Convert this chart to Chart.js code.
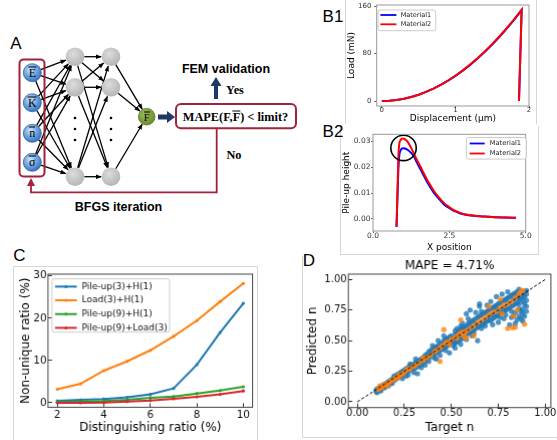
<!DOCTYPE html>
<html>
<head>
<meta charset="utf-8">
<script src="https://cdn.jsdelivr.net/npm/chart.js@4.4.1/dist/chart.umd.min.js"></script>
<style>
  html, body { margin: 0; padding: 0; background: #fff; }
  body { position: relative; width: 557px; height: 440px; overflow: hidden; font-family: "DejaVu Sans", sans-serif; }
  .plot { position: absolute; }
  .lbl { position: absolute; transform: translate(-50%, -50%); line-height: 1; white-space: nowrap; color: #000; }
  .tag { font: 17px "Liberation Sans", Arial, sans-serif; }
  .bsans { font: bold 12.5px "Liberation Sans", Arial, sans-serif; }
  .bserif { font: bold 12.3px "Liberation Serif", "Times New Roman", serif; }
  .node { font: 12px "Liberation Serif", "Times New Roman", serif; }
  .ov { display: inline-block; border-top: 1px solid #000; line-height: 0.78; padding-top: 1px; }
  .pframe { position: absolute; border: 0 solid #d6d6d6; }
</style>
</head>
<body>

<!-- light frames of the pasted sub-figures -->
<div class="pframe" style="left:345px;top:-2px;width:190px;height:126px;border-left-width:1px;border-right-width:1px;"></div>
<div class="pframe" style="left:340px;top:126px;width:197px;height:128px;border-left-width:1px;border-right-width:1px;border-bottom-width:1px;"></div>
<div class="pframe" style="left:13px;top:266px;width:243px;height:180px;border-left-width:1px;border-right-width:1px;border-top-width:1px;"></div>
<div class="pframe" style="left:302px;top:256px;width:260px;height:181px;border-left-width:1px;border-bottom-width:1px;"></div>

<!-- panel A: network diagram -->
<svg id="diagram" width="300" height="215" style="position:absolute;left:0;top:0">
  <defs>
    <radialGradient id="gBlue" cx="0.4" cy="0.35" r="0.7">
      <stop offset="0" stop-color="#d6e8fa"/>
      <stop offset="0.5" stop-color="#6fa6e2"/>
      <stop offset="1" stop-color="#2f6cb8"/>
    </radialGradient>
    <radialGradient id="gGray" cx="0.4" cy="0.35" r="0.7">
      <stop offset="0" stop-color="#dcdcdc"/>
      <stop offset="1" stop-color="#b3b3b3"/>
    </radialGradient>
    <radialGradient id="gGreen" cx="0.4" cy="0.35" r="0.7">
      <stop offset="0" stop-color="#9cbc5c"/>
      <stop offset="1" stop-color="#67882c"/>
    </radialGradient>
    <marker id="ah" viewBox="0 0 10 10" refX="9" refY="5" markerWidth="4.5" markerHeight="4.5" orient="auto">
      <path d="M0,1 L10,5 L0,9 z" fill="#000"/>
    </marker>
  </defs>
  <g id="links" stroke="#000" stroke-width="1.3" fill="none"></g>
  <rect x="19.5" y="59.5" width="25" height="117" rx="4" fill="none" stroke="#a0233c" stroke-width="2"/>
  <g id="nodes"></g>
  <polygon points="158,114.5 167,114.5 167,111 175,117 167,123 167,119.5 158,119.5" fill="#1f3864"/>
  <polygon points="214,99 218,99 218,86 221.5,86 216,77 210.5,86 214,86" fill="#1f3864"/>
  <rect x="176" y="104" width="120" height="24.3" rx="5" fill="#fff" stroke="#a0233c" stroke-width="2"/>
  <polyline points="216.7,128.3 216.7,192.3 31,192.3 31,185" fill="none" stroke="#a0233c" stroke-width="1.8"/>
  <polygon points="27,186 35,186 31,178" fill="#a0233c"/>
</svg>

<div class="lbl tag" style="left:16px;top:44px">A</div>
<div class="lbl bsans" style="left:226px;top:68.5px">FEM validation</div>
<div class="lbl bserif" style="left:235px;top:90px">Yes</div>
<div class="lbl bserif" style="left:234px;top:155px">No</div>
<div class="lbl bsans" style="left:118.5px;top:206.7px">BFGS iteration</div>
<div class="lbl bserif" style="left:235.5px;top:116.5px">MAPE(F,<span class="ov">F</span>) &lt; limit?</div>
<div class="lbl node" style="left:32.3px;top:73px"><span class="ov">E</span></div>
<div class="lbl node" style="left:32.3px;top:103px"><span class="ov">K</span></div>
<div class="lbl node" style="left:32.3px;top:133.3px"><span class="ov">n</span></div>
<div class="lbl node" style="left:32.3px;top:162.3px"><span class="ov">σ</span></div>
<div class="lbl node" style="left:146.7px;top:117px;font-size:10.5px"><span class="ov">F</span></div>

<div class="lbl tag" style="left:333px;top:16.5px">B1</div>
<div class="lbl tag" style="left:333px;top:132px">B2</div>
<div class="lbl tag" style="left:19.5px;top:256px">C</div>
<div class="lbl tag" style="left:309px;top:261px">D</div>

<div class="plot" id="b1"><canvas></canvas></div>
<div class="plot" id="b2"><canvas></canvas></div>
<div class="plot" id="c"><canvas></canvas></div>
<div class="plot" id="d"><canvas></canvas></div>

<script>
// ---- B1: load vs displacement ----
const B1_DISP = [0, 0.1, 0.2, 0.3, 0.4, 0.5, 0.6, 0.7, 0.8, 0.9, 1.0, 1.1, 1.2, 1.3, 1.4, 1.5, 1.6, 1.7, 1.8, 1.9, 1.864];
const B1_LOAD_M1 = [0, 0.4, 1.7, 3.8, 6.8, 10.6, 15.3, 20.8, 27.1, 34.3, 42.3, 51.2, 60.9, 71.5, 82.9, 95.2, 108.3, 122.3, 137.2, 153.2, 0];
const B1_LOAD_M2 = [0, 0.43, 1.7, 3.83, 6.82, 10.65, 15.34, 20.87, 27.26, 34.51, 42.6, 51.55, 61.34, 71.99, 83.5, 95.85, 109.06, 123.11, 138.02, 153.79, 0];
const B1_X_TICKS = [0, 1, 2];
const B1_Y_TICKS = [0, 80, 160];

// ---- B2: pile-up profile ----
const B2_X = [0.77, 0.80, 0.83, 0.86, 0.90, 0.97, 1.05, 1.13, 1.24, 1.345, 1.45, 1.56, 1.665, 1.77, 1.88, 1.99, 2.15, 2.31, 2.47, 2.63, 2.80, 2.96, 3.20, 3.50, 3.80, 4.03, 4.35, 4.68];
const B2_M1 = [-0.0031, 0.008, 0.019, 0.0245, 0.0265, 0.0274, 0.0273, 0.0268, 0.0257, 0.0241, 0.0216, 0.0191, 0.0167, 0.0143, 0.0122, 0.0102, 0.0079, 0.0058, 0.0044, 0.0032, 0.0024, 0.0018, 0.0013, 0.0010, 0.0008, 0.0006, 0.0005, 0.0004];
const B2_M2 = [-0.0031, 0.010, 0.024, 0.029, 0.0305, 0.0312, 0.0308, 0.0300, 0.0278, 0.0251, 0.0226, 0.0201, 0.0176, 0.0152, 0.0130, 0.0109, 0.0084, 0.0063, 0.0048, 0.0035, 0.0026, 0.0019, 0.0014, 0.0010, 0.0008, 0.0006, 0.0005, 0.0004];
const B2_MARK_X = [1.0];
const B2_MARK_Y = [0.0275];
const B2_X_TICKS = [0, 2.5, 5];
const B2_Y_TICKS = [0, 0.01, 0.02, 0.03];

// ---- C: non-unique ratio ----
const C_X = [2, 3, 4, 5, 6, 7, 8, 9, 10];
const C_PILE3_H1 = [0.47, 0.7, 0.9, 1.3, 2.0, 3.4, 9.0, 16.6, 23.5];
const C_LOAD3_H1 = [3.2, 4.5, 7.6, 9.8, 12.4, 15.7, 19.4, 23.9, 28.2];
const C_PILE9_H1 = [0.2, 0.3, 0.4, 0.7, 1.2, 1.5, 2.2, 2.9, 3.8];
const C_PILE9_LOAD3 = [0.0, 0.0, 0.05, 0.3, 0.55, 0.95, 1.4, 2.0, 2.8];
const C_X_TICKS = [2, 4, 6, 8, 10];
const C_Y_TICKS = [0, 10, 20, 30];

// ---- D: predicted vs target n ----
const D_TRAIN = [
  [0.10,0.085],[0.10,0.10],[0.11,0.09],[0.11,0.11],[0.12,0.10],[0.12,0.12],[0.13,0.11],[0.13,0.13],[0.14,0.12],[0.14,0.14],
  [0.15,0.13],[0.15,0.15],[0.16,0.14],[0.16,0.16],[0.17,0.15],[0.17,0.17],[0.18,0.16],[0.18,0.18],[0.19,0.17],[0.19,0.19],
  [0.20,0.18],[0.20,0.20],[0.105,0.075],[0.125,0.09],[0.145,0.115],[0.165,0.13],[0.185,0.15],[0.195,0.21],
  [0.21,0.19],[0.21,0.22],[0.22,0.20],[0.22,0.23],[0.23,0.21],[0.23,0.24],[0.24,0.22],[0.24,0.25],[0.25,0.23],[0.25,0.26],
  [0.26,0.24],[0.26,0.27],[0.27,0.25],[0.27,0.28],[0.28,0.26],[0.28,0.29],[0.29,0.27],[0.29,0.30],[0.30,0.27],[0.30,0.31],
  [0.31,0.28],[0.31,0.32],[0.32,0.29],[0.32,0.33],[0.33,0.30],[0.33,0.34],[0.34,0.31],[0.34,0.35],[0.35,0.32],[0.35,0.36],
  [0.24,0.19],[0.27,0.22],[0.30,0.24],[0.32,0.23],[0.28,0.31],[0.31,0.35],[0.26,0.21],[0.34,0.28],
  [0.36,0.33],[0.36,0.38],[0.37,0.35],[0.37,0.39],[0.38,0.36],[0.38,0.41],[0.39,0.37],[0.39,0.42],[0.40,0.38],[0.40,0.43],
  [0.41,0.39],[0.41,0.44],[0.42,0.40],[0.42,0.45],[0.43,0.41],[0.43,0.46],[0.44,0.42],[0.44,0.47],[0.45,0.43],[0.45,0.48],
  [0.46,0.44],[0.46,0.50],[0.47,0.45],[0.47,0.51],[0.48,0.46],[0.48,0.52],[0.49,0.47],[0.49,0.53],[0.50,0.48],[0.50,0.54],
  [0.38,0.33],[0.41,0.36],[0.44,0.38],[0.47,0.42],[0.40,0.46],[0.43,0.50],[0.46,0.54],[0.49,0.40],[0.36,0.30],[0.42,0.35],
  [0.51,0.46],[0.51,0.52],[0.52,0.48],[0.52,0.55],[0.53,0.49],[0.53,0.56],[0.54,0.50],[0.54,0.58],[0.55,0.51],[0.55,0.59],
  [0.56,0.52],[0.56,0.60],[0.57,0.54],[0.57,0.61],[0.58,0.55],[0.58,0.62],[0.59,0.56],[0.59,0.64],[0.60,0.57],[0.60,0.65],
  [0.61,0.58],[0.61,0.66],[0.62,0.59],[0.62,0.67],[0.63,0.60],[0.63,0.68],[0.64,0.61],[0.64,0.69],[0.65,0.62],[0.65,0.70],
  [0.66,0.63],[0.66,0.71],[0.67,0.64],[0.67,0.72],[0.68,0.65],[0.68,0.73],[0.69,0.66],[0.69,0.74],[0.70,0.67],[0.70,0.75],
  [0.52,0.44],[0.55,0.47],[0.58,0.51],[0.61,0.54],[0.64,0.50],[0.58,0.72],[0.60,0.75],[0.65,0.80],[0.62,0.56],[0.66,0.60],
  [0.68,0.62],[0.53,0.60],[0.56,0.64],[0.59,0.68],[0.63,0.73],[0.69,0.79],[0.65,0.78],
  [0.71,0.66],[0.71,0.76],[0.72,0.68],[0.72,0.77],[0.73,0.69],[0.73,0.78],[0.74,0.70],[0.74,0.79],[0.75,0.71],[0.75,0.80],
  [0.76,0.72],[0.76,0.81],[0.77,0.73],[0.77,0.82],[0.78,0.74],[0.78,0.83],[0.79,0.75],[0.79,0.84],[0.80,0.76],[0.80,0.85],
  [0.81,0.77],[0.81,0.86],[0.82,0.78],[0.82,0.87],[0.83,0.79],[0.83,0.88],[0.84,0.80],[0.84,0.89],[0.85,0.81],[0.85,0.90],
  [0.86,0.76],[0.86,0.86],[0.87,0.74],[0.87,0.84],[0.88,0.72],[0.88,0.82],[0.89,0.70],[0.89,0.80],[0.90,0.78],[0.90,0.88],
  [0.86,0.92],[0.88,0.90],[0.89,0.86],[0.90,0.74],[0.87,0.68],[0.88,0.76],[0.72,0.63],[0.75,0.65],[0.78,0.68],[0.81,0.63],
  [0.83,0.70],[0.74,0.86],[0.77,0.88],[0.80,0.90],[0.84,0.73],[0.85,0.67],[0.71,0.82],[0.79,0.71],[0.82,0.74],[0.76,0.75],
  [0.73,0.73],[0.70,0.70],[0.85,0.85],[0.87,0.88],[0.89,0.90],[0.90,0.83],[0.86,0.80],
  [0.84,0.64],[0.86,0.70],[0.88,0.66],[0.82,0.69],[0.78,0.77],[0.80,0.81],[0.83,0.84],[0.76,0.69],[0.74,0.76],[0.72,0.71],
  [0.90,0.91],[0.88,0.86],[0.86,0.84],[0.66,0.74],[0.63,0.64],[0.60,0.62],[0.57,0.58],[0.54,0.53],[0.51,0.49],[0.48,0.50],
  [0.45,0.45],[0.43,0.44],[0.40,0.40],[0.37,0.37],[0.52,0.58],[0.55,0.62]
];
const D_TEST = [
  [0.11,0.10],[0.12,0.11],[0.13,0.12],[0.14,0.14],[0.15,0.14],[0.16,0.15],[0.17,0.16],[0.18,0.17],[0.19,0.18],[0.20,0.19],
  [0.21,0.20],[0.22,0.22],[0.23,0.22],[0.24,0.23],[0.25,0.24],[0.26,0.26],[0.27,0.27],[0.28,0.27],[0.30,0.29],[0.31,0.30],
  [0.33,0.32],[0.35,0.34],[0.37,0.36],[0.39,0.38],[0.41,0.41],[0.42,0.42],[0.44,0.44],[0.45,0.46],[0.47,0.48],[0.48,0.49],
  [0.50,0.51],[0.52,0.53],[0.53,0.52],[0.54,0.55],[0.55,0.56],[0.56,0.57],[0.57,0.56],[0.58,0.58],[0.60,0.60],[0.62,0.62],
  [0.64,0.65],[0.66,0.67],[0.68,0.69],[0.70,0.71],[0.72,0.73],[0.74,0.74],[0.76,0.77],[0.78,0.79],[0.80,0.80],[0.82,0.82],
  [0.84,0.85],[0.86,0.88],[0.87,0.90],[0.88,0.91],
  [0.44,0.33],[0.46,0.59],[0.55,0.67],[0.58,0.52],[0.62,0.54],[0.70,0.78],[0.77,0.72],[0.80,0.60],[0.826,0.607],[0.84,0.61],
  [0.89,0.635],[0.83,0.70],[0.85,0.75],[0.76,0.84],[0.57,0.53],[0.49,0.47],[0.16,0.13],[0.22,0.20],[0.12,0.13],[0.35,0.36]
];
const D_DIAG_X = [0, 1];
const D_DIAG_Y = [0, 1];
const D_TICKS = [0, 0.25, 0.5, 0.75, 1.0];

// ---- panel A geometry ----
const IN_X = 32.3, IN_Y = [72.7, 102.7, 133.3, 162.3];
const H1_X = 75, H2_X = 111, H_Y = [56.7, 87.3, 176.7];
const OUT = [146.7, 116.7];

function drawDiagram() {
  const NS = "http://www.w3.org/2000/svg";
  const links = document.getElementById("links");
  const nodes = document.getElementById("nodes");
  const link = (x1, y1, r1, x2, y2, r2) => {
    const dx = x2 - x1, dy = y2 - y1, d = Math.hypot(dx, dy);
    const l = document.createElementNS(NS, "line");
    l.setAttribute("x1", x1 + dx / d * r1);
    l.setAttribute("y1", y1 + dy / d * r1);
    l.setAttribute("x2", x2 - dx / d * (r2 + 0.5));
    l.setAttribute("y2", y2 - dy / d * (r2 + 0.5));
    l.setAttribute("marker-end", "url(#ah)");
    links.appendChild(l);
  };
  const circle = (cx, cy, r, fill, stroke) => {
    const c = document.createElementNS(NS, "circle");
    c.setAttribute("cx", cx); c.setAttribute("cy", cy); c.setAttribute("r", r);
    c.setAttribute("fill", fill);
    if (stroke) { c.setAttribute("stroke", stroke); c.setAttribute("stroke-width", 0.8); }
    nodes.appendChild(c);
  };
  IN_Y.forEach((y1) => H_Y.forEach((y2) => link(IN_X, y1, 9, H1_X, y2, 9.3)));
  H_Y.forEach((y1) => H_Y.forEach((y2) => link(H1_X, y1, 9.3, H2_X, y2, 9.3)));
  H_Y.forEach((y1) => link(H2_X, y1, 9.3, OUT[0], OUT[1], 8.3));
  IN_Y.forEach((y) => circle(IN_X, y, 9, "url(#gBlue)", "#3465a4"));
  H_Y.forEach((y) => { circle(H1_X, y, 9.3, "url(#gGray)"); circle(H2_X, y, 9.3, "url(#gGray)"); });
  [118, 129, 140].forEach((y) => { circle(H1_X, y, 1.3, "#000"); circle(H2_X, y, 1.3, "#000"); });
  circle(OUT[0], OUT[1], 8.3, "url(#gGreen)", "#5a7a25");
}
drawDiagram();

// ---- chart helpers ----
Chart.defaults.font.family = '"DejaVu Sans", sans-serif';
Chart.defaults.animation = false;

const frame = {
  id: "frame",
  afterDatasetsDraw(chart, args, o) {
    const { ctx, chartArea: a } = chart;
    ctx.save();
    ctx.strokeStyle = o.color;
    ctx.lineWidth = o.width;
    ctx.strokeRect(a.left, a.top, a.right - a.left, a.bottom - a.top);
    ctx.restore();
  },
};

const boxLegend = {
  id: "boxLegend",
  afterDraw(chart, args, o) {
    const { ctx, chartArea: a } = chart;
    const x0 = a.left + o.bx, y0 = a.top + o.by;
    ctx.save();
    ctx.fillStyle = "rgba(255,255,255,0.85)";
    ctx.strokeStyle = "#cccccc";
    ctx.lineWidth = 1;
    ctx.beginPath();
    ctx.roundRect(x0, y0, o.bw, o.bh, 2);
    ctx.fill();
    ctx.stroke();
    ctx.font = o.font;
    ctx.textBaseline = "middle";
    let row = 0;
    chart.data.datasets.forEach((ds) => {
      if (!ds.label) return;
      const y = y0 + o.row0 + row * o.rowGap;
      ctx.strokeStyle = ds.borderColor;
      ctx.lineWidth = o.lineWidth;
      ctx.beginPath();
      ctx.moveTo(x0 + o.lx0, y);
      ctx.lineTo(x0 + o.lx1, y);
      ctx.stroke();
      if (o.marker) {
        ctx.fillStyle = ds.borderColor;
        ctx.beginPath();
        ctx.arc(x0 + (o.lx0 + o.lx1) / 2, y, o.marker, 0, Math.PI * 2);
        ctx.fill();
      }
      ctx.fillStyle = o.textColor;
      ctx.fillText(ds.label, x0 + o.tx, y);
      row++;
    });
    ctx.restore();
  },
};

function axis(o) {
  return {
    type: "linear",
    min: o.min,
    max: o.max,
    afterBuildTicks: (s) => { s.ticks = o.ticks.map((v) => ({ value: v })); },
    ticks: { color: o.color, font: { size: o.size }, padding: o.pad, autoSkip: false, maxRotation: 0, callback: o.fmt },
    grid: { drawOnChartArea: false, drawTicks: true, tickLength: o.tl, color: o.tickColor },
    border: { display: false },
    title: { display: true, text: o.title, color: "#000", font: { size: o.titleSize }, padding: 0 },
  };
}

// rect = plot area [left, top, right, bottom] on the page, m = margins round it
function makePlot(id, rect, m, config) {
  const [L, T, R, B] = rect;
  const wrap = document.getElementById(id);
  wrap.style.left = (L - m.l) + "px";
  wrap.style.top = (T - m.t) + "px";
  wrap.style.width = (R - L + m.l + m.r) + "px";
  wrap.style.height = (B - T + m.t + m.b) + "px";
  config.options.responsive = true;
  config.options.maintainAspectRatio = false;
  config.options.events = [];
  config.options.layout = { padding: { top: m.pt ?? m.t, right: m.r, left: 0, bottom: 0 } };
  config.options.scales.x.afterFit = (s) => { s.height = m.b; };
  config.options.scales.y.afterFit = (s) => { s.width = m.l; };
  config.options.plugins.legend = { display: false };
  config.options.plugins.tooltip = { enabled: false };
  config.plugins = [frame, boxLegend];
  return new Chart(wrap.querySelector("canvas"), config);
}

const pts = (xs, ys) => xs.map((x, i) => ({ x, y: ys[i] }));

// ---- B1 ----
makePlot("b1", [377, 5, 529.3, 106], { l: 30.7, t: 10, r: 10, b: 18.4 }, {
  type: "line",
  data: {
    datasets: [
      { label: "Material1", data: pts(B1_DISP, B1_LOAD_M1), borderColor: "#0000ff", borderWidth: 2, pointRadius: 0, order: 1 },
      { label: "Material2", data: pts(B1_DISP, B1_LOAD_M2), borderColor: "#ff0000", borderWidth: 2, pointRadius: 0, order: 0 },
    ],
  },
  options: {
    scales: {
      x: axis({ min: -0.07, max: 2.0, ticks: B1_X_TICKS, color: "#333", size: 7, pad: -2.4, tl: 2, tickColor: "#666",
        title: "Displacement (µm)", titleSize: 9, fmt: (v) => String(v) }),
      y: axis({ min: -8.4, max: 161.7, ticks: B1_Y_TICKS, color: "#333", size: 7, pad: 2.8, tl: 2.5, tickColor: "#666",
        title: "Load (mN)", titleSize: 9, fmt: (v) => String(v) }),
    },
    plugins: {
      frame: { color: "#999", width: 1 },
      boxLegend: { bx: 1.3, by: 5, bw: 57.7, bh: 20.7, row0: 5, rowGap: 9.3, lx0: 2.4, lx1: 18.4, tx: 22.7,
        font: '6.5px "DejaVu Sans"', textColor: "#222", lineWidth: 1.8, marker: 0 },
    },
  },
});

// ---- B2 ----
makePlot("b2", [373.3, 131.5, 528.3, 230.5], { l: 32, t: 12, r: 12, b: 21.9 }, {
  type: "line",
  data: {
    datasets: [
      { label: "Material1", data: pts(B2_X, B2_M1), borderColor: "#0000ff", borderWidth: 2, pointRadius: 0,
        cubicInterpolationMode: "monotone", order: 2 },
      { label: "Material2", data: pts(B2_X, B2_M2), borderColor: "#ff0000", borderWidth: 2, pointRadius: 0,
        cubicInterpolationMode: "monotone", order: 1 },
      { label: "", data: pts(B2_MARK_X, B2_MARK_Y), showLine: false, pointRadius: 12.7, pointBorderWidth: 1.6,
        pointBorderColor: "#000", pointBackgroundColor: "rgba(0,0,0,0)", borderColor: "#000", clip: false, order: 0 },
    ],
  },
  options: {
    scales: {
      x: axis({ min: 0, max: 5, ticks: B2_X_TICKS, color: "#333", size: 7.5, pad: -1, tl: 2, tickColor: "#666",
        title: "X position", titleSize: 9, fmt: (v) => v.toFixed(1) }),
      y: axis({ min: -0.0047, max: 0.0328, ticks: B2_Y_TICKS, color: "#333", size: 7.5, pad: 0.5, tl: 2, tickColor: "#666",
        title: "Pile-up height", titleSize: 9, fmt: (v) => v.toFixed(2) }),
    },
    plugins: {
      frame: { color: "#999", width: 1 },
      boxLegend: { bx: 93.4, by: 3.2, bw: 60, bh: 21.6, row0: 6, rowGap: 10, lx0: 3.3, lx1: 18.3, tx: 23.3,
        font: '6.7px "DejaVu Sans"', textColor: "#222", lineWidth: 1.8, marker: 0 },
    },
  },
});

// ---- C ----
const cSeries = (label, ys, color, order) => ({
  label, data: pts(C_X, ys), borderColor: color, backgroundColor: color, borderWidth: 2,
  pointRadius: 1.6, pointBorderWidth: 0, order,
});
makePlot("c", [48, 274.3, 251.7, 406.7], { l: 28.9, t: 13, r: 12, b: 27.2 }, {
  type: "line",
  data: {
    datasets: [
      cSeries("Pile-up(3)+H(1)", C_PILE3_H1, "#1f77b4", 4),
      cSeries("Load(3)+H(1)", C_LOAD3_H1, "#ff7f0e", 3),
      cSeries("Pile-up(9)+H(1)", C_PILE9_H1, "#2ca02c", 2),
      cSeries("Pile-up(9)+Load(3)", C_PILE9_LOAD3, "#d62728", 1),
    ],
  },
  options: {
    scales: {
      x: axis({ min: 1.6, max: 10.4, ticks: C_X_TICKS, color: "#111", size: 10.5, pad: 5.3, tl: -4, tickColor: "#333",
        title: "Distinguishing ratio (%)", titleSize: 12, fmt: (v) => String(v) }),
      y: axis({ min: -1.05, max: 30.4, ticks: C_Y_TICKS, color: "#111", size: 10.5, pad: 5.3, tl: -4, tickColor: "#333",
        title: "Non-unique ratio (%)", titleSize: 12, fmt: (v) => String(v) }),
    },
    plugins: {
      frame: { color: "#444", width: 1 },
      boxLegend: { bx: 4, by: 4.7, bw: 117, bh: 53, row0: 7.7, rowGap: 13.67, lx0: 3, lx1: 24.7, tx: 29.7,
        font: '9px "DejaVu Sans"', textColor: "#111", lineWidth: 2, marker: 1.5 },
    },
  },
});

// ---- D ----
const xy = (p) => ({ x: p[0], y: p[1] });
makePlot("d", [348.3, 274, 550, 406.7], { l: 42.2, t: 16, pt: 0, r: 12, b: 27.2 }, {
  type: "scatter",
  data: {
    datasets: [
      { label: "", data: pts(D_DIAG_X, D_DIAG_Y), showLine: true, borderColor: "#000", borderWidth: 1,
        borderDash: [3, 2], pointRadius: 0 },
      { label: "", data: D_TEST.map(xy), pointRadius: 2.6, pointBorderWidth: 0,
        pointBackgroundColor: "rgba(255,127,14,0.8)", borderColor: "rgba(255,127,14,0.8)" },
      { label: "", data: D_TRAIN.map(xy), pointRadius: 2.6, pointBorderWidth: 0,
        pointBackgroundColor: "rgba(31,119,180,0.8)", borderColor: "rgba(31,119,180,0.8)" },
    ],
  },
  options: {
    scales: {
      x: axis({ min: -0.048, max: 1.03, ticks: D_TICKS, color: "#111", size: 10, pad: 3.6, tl: -4, tickColor: "#333",
        title: "Target n", titleSize: 12, fmt: (v) => v.toFixed(2) }),
      y: axis({ min: -0.047, max: 1.044, ticks: D_TICKS, color: "#111", size: 10, pad: 5.6, tl: -4, tickColor: "#333",
        title: "Predicted n", titleSize: 12, fmt: (v) => v.toFixed(2) }),
    },
    plugins: {
      title: { display: true, text: "MAPE = 4.71%", color: "#000", fullSize: false,
        font: { size: 12, weight: "normal" }, padding: { top: 0.6, bottom: 1 } },
      frame: { color: "#444", width: 1 },
      boxLegend: false,
    },
  },
});
</script>
</body>
</html>
